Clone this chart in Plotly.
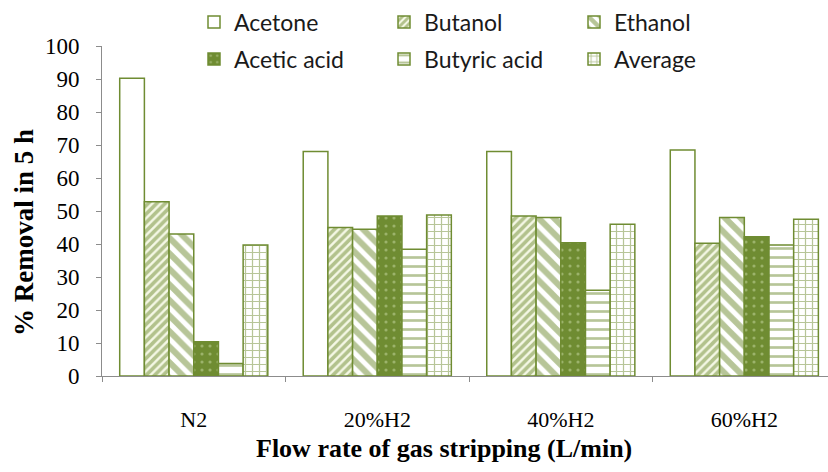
import plotly.graph_objects as go

# Removal of fermentation products after 5 h of gas stripping
categories = ["N2", "20%H2", "40%H2", "60%H2"]
acetone = [90.2, 68.0, 68.0, 68.5]
butanol = [52.8, 45.0, 48.5, 40.2]
ethanol = [43.0, 44.5, 48.0, 48.0]
acetic_acid = [10.4, 48.5, 40.4, 42.2]
butyric_acid = [3.8, 38.4, 26.0, 39.7]
average = [39.7, 48.8, 46.0, 47.5]

GREEN = "#6F8C32"
PALE = "#F5F8E6"
LIGHT_DOT = "#C9D9A3"
AXIS = "#8C8C8C"

series = [
    ("Acetone", acetone, dict(shape="", fgcolor=GREEN, bgcolor="white"), "legend"),
    ("Butanol", butanol, dict(shape="/", fgcolor=GREEN, bgcolor=PALE, size=6, solidity=0.6), "legend"),
    ("Ethanol", ethanol, dict(shape="\\", fgcolor=GREEN, bgcolor="white", size=11, solidity=0.55), "legend"),
    ("Acetic acid", acetic_acid, dict(shape=".", fgcolor=LIGHT_DOT, bgcolor=GREEN, size=8, solidity=0.12), "legend2"),
    ("Butyric acid", butyric_acid, dict(shape="-", fgcolor=GREEN, bgcolor="white", size=9, solidity=0.3), "legend2"),
    ("Average", average, dict(shape="+", fgcolor=GREEN, bgcolor="white", size=7, solidity=0.32), "legend2"),
]

fig = go.Figure()
for name, vals, pat, leg in series:
    fig.add_trace(go.Bar(
        name=name, x=categories, y=vals,
        marker=dict(color="white", line=dict(color=GREEN, width=1.5), pattern=pat),
        legend=leg,
    ))

legend_font = dict(family="Lato", size=23, color="#1A1A1A")
common_legend = dict(
    orientation="h", xref="container", yref="container",
    x=194 / 828, xanchor="left", yanchor="middle",
    font=legend_font, entrywidth=145, entrywidthmode="pixels",
    bgcolor="rgba(0,0,0,0)", borderwidth=0, tracegroupgap=0,
)

serif = "Liberation Serif"

fig.update_layout(
    width=828, height=472,
    margin=dict(l=102, r=0, t=46, b=96, autoexpand=False),
    paper_bgcolor="white", plot_bgcolor="white",
    barmode="group", bargap=0.193, bargroupgap=0,
    legend=dict(common_legend, y=1 - 22 / 472),
    legend2=dict(common_legend, y=1 - 59 / 472),
    xaxis=dict(
        range=[-0.5, 3.456], showline=True, linecolor=AXIS, linewidth=1,
        ticks="outside", tickson="boundaries", ticklen=5, tickcolor=AXIS,
        tickfont=dict(family=serif, size=22, color="black"),
        ticklabelstandoff=24,
        showgrid=False, zeroline=False,
    ),
    yaxis=dict(
        range=[0, 100], dtick=10, showline=True, linecolor=AXIS, linewidth=1,
        ticks="outside", ticklen=5, tickcolor=AXIS,
        tickfont=dict(family=serif, size=23, color="black"),
        ticklabelstandoff=12,
        showgrid=False, zeroline=False,
    ),
    annotations=[
        # axis titles
        dict(text="<b>Flow rate of gas stripping (L/min)</b>",
             xref="paper", yref="paper", x=(444 - 102) / 726, y=(376 - 448) / 330,
             xanchor="center", yanchor="middle", showarrow=False,
             font=dict(family=serif, size=26, color="black")),
        dict(text="<b>% Removal in 5 h</b>", textangle=-90,
             xref="paper", yref="paper", x=(24 - 102) / 726, y=(376 - 233) / 330,
             xanchor="center", yanchor="middle", showarrow=False,
             font=dict(family=serif, size=27, color="black")),
    ],
)

fig.write_html("out.html")
